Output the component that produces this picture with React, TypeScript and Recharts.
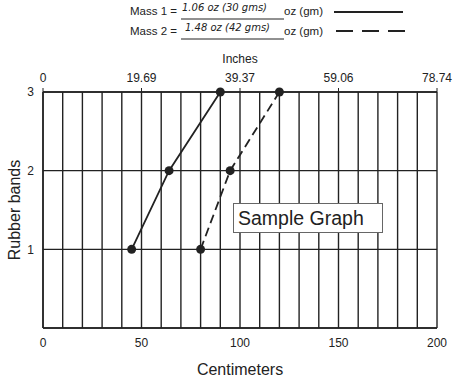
import React from 'react';
import { LineChart, Line, XAxis, YAxis, CartesianGrid, Label } from 'recharts';

const cmTicks = [0, 10, 20, 30, 40, 50, 60, 70, 80, 90, 100, 110, 120, 130, 140, 150, 160, 170, 180, 190, 200];
const inchTicks = [0, 50, 100, 150, 200];
const inchLabels = ['0', '19.69', '39.37', '59.06', '78.74'];
const bandTicks = [0, 1, 2, 3];

const mass1 = [
  { cm: 45, bands: 1 },
  { cm: 64, bands: 2 },
  { cm: 90, bands: 3 },
];
const mass2 = [
  { cm: 80, bands: 1 },
  { cm: 95, bands: 2 },
  { cm: 120, bands: 3 },
];

const ink = '#222';
const font = '"Liberation Sans", Arial, sans-serif';
const hand = '"DejaVu Sans", sans-serif';

function LegendBlock() {
  return (
    <svg width={458} height={50} style={{ position: 'absolute', left: 0, top: 0 }}>
      <g fontFamily={font} fontSize={11.5} fill={ink}>
        <text x={130} y={15}>Mass 1 =</text>
        <text x={130} y={35}>Mass 2 =</text>
        <text x={284} y={15}>oz (gm)</text>
        <text x={284} y={35}>oz (gm)</text>
      </g>
      <g fontFamily={hand} fontSize={10} fontStyle="italic" fill={ink}>
        <text x={182} y={11}>1.06 oz (30 gms)</text>
        <text x={185} y={31}>1.48 oz (42 gms)</text>
      </g>
      <line x1={181} x2={284} y1={19} y2={19} stroke={ink} strokeWidth={1} />
      <line x1={181} x2={284} y1={39} y2={39} stroke={ink} strokeWidth={1} />
      <line x1={334} x2={403} y1={12} y2={12} stroke={ink} strokeWidth={2} />
      <line x1={336} x2={405} y1={31} y2={31} stroke={ink} strokeWidth={2} strokeDasharray="17 9" />
    </svg>
  );
}

export default function App() {
  return (
    <div style={{ position: 'absolute', left: 0, top: 0, width: 458, height: 387, background: '#fff' }}>
      <LineChart
        width={458}
        height={387}
        margin={{ top: 52, right: 21, bottom: 0, left: 0 }}
        style={{ fontFamily: font }}
      >
        <CartesianGrid stroke={ink} strokeWidth={1.4} xAxisId="cm" />
        <XAxis
          xAxisId="cm"
          type="number"
          dataKey="cm"
          domain={[0, 200]}
          ticks={cmTicks}
          interval={0}
          tickFormatter={(v: number) => (v % 50 === 0 ? String(v) : '')}
          tick={{ fontSize: 12, fill: ink }}
          tickLine={false}
          axisLine={{ stroke: ink, strokeWidth: 1.5 }}
          height={59}
          tickMargin={4}
        >
          <Label value="Centimeters" position="insideBottom" offset={12} style={{ fontSize: 16, fill: ink }} />
        </XAxis>
        <XAxis
          xAxisId="in"
          orientation="top"
          type="number"
          dataKey="cm"
          domain={[0, 200]}
          allowDataOverflow
          ticks={inchTicks}
          interval={0}
          tickFormatter={(v: number) => inchLabels[inchTicks.indexOf(v)]}
          tick={{ fontSize: 12, fill: ink }}
          tickLine={{ stroke: ink }}
          tickSize={4}
          tickMargin={6}
          axisLine={{ stroke: ink, strokeWidth: 1.5 }}
          height={40}
        >
          <Label value="Inches" position="insideTop" offset={2} style={{ fontSize: 12, fill: ink }} />
        </XAxis>
        <YAxis
          type="number"
          domain={[0, 3]}
          ticks={bandTicks}
          interval={0}
          tickFormatter={(v: number) => (v === 0 ? '' : String(v))}
          tick={{ fontSize: 12, fill: ink }}
          tickLine={false}
          axisLine={{ stroke: ink, strokeWidth: 1.5 }}
          width={43}
          tickMargin={3}
        >
          <Label value="Rubber bands" angle={-90} position="insideLeft" offset={14} style={{ fontSize: 16, fill: ink, textAnchor: 'middle' }} />
        </YAxis>
        {/* invisible series so the inches axis gets its ticks */}
        <Line
          xAxisId="in"
          data={mass1}
          dataKey="bands"
          stroke="none"
          dot={false}
          activeDot={false}
          isAnimationActive={false}
        />
        <Line
          xAxisId="cm"
          data={mass1}
          dataKey="bands"
          type="linear"
          stroke={ink}
          strokeWidth={1.8}
          dot={{ r: 4.5, fill: ink, stroke: ink, strokeWidth: 0 }}
          isAnimationActive={false}
        />
        <Line
          xAxisId="cm"
          data={mass2}
          dataKey="bands"
          type="linear"
          stroke={ink}
          strokeWidth={1.8}
          strokeDasharray="9 5"
          dot={{ r: 4.5, fill: ink, stroke: ink, strokeWidth: 0, strokeDasharray: '0' }}
          isAnimationActive={false}
        />
      </LineChart>
      <LegendBlock />
      <div
        style={{
          position: 'absolute',
          left: 233,
          top: 203,
          width: 144,
          height: 28,
          border: '1px solid #666',
          background: '#fff',
          fontFamily: font,
          fontSize: 19.5,
          color: ink,
          lineHeight: '28px',
          paddingLeft: 4,
          boxSizing: 'content-box',
        }}
      >
        Sample Graph
      </div>
    </div>
  );
}
